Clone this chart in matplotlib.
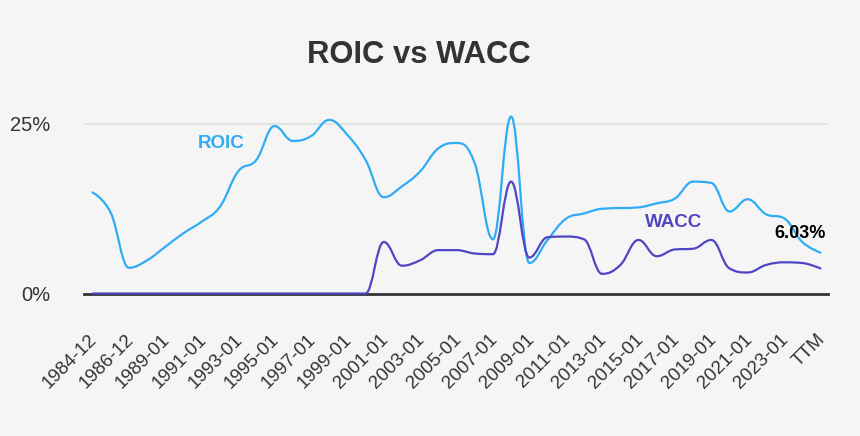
import numpy as np
import matplotlib

matplotlib.use("Agg")
import matplotlib.pyplot as plt
from matplotlib.path import Path
from matplotlib.patches import PathPatch
from matplotlib.transforms import ScaledTranslation

plt.rcParams["font.family"] = ["Liberation Sans", "DejaVu Sans"]

# periodi (una categoria per anno, etichetta ogni due)
periods = (["1984-12", "1985-12", "1986-12", "1988-01"]
           + [f"{y}-01" for y in range(1989, 2025)] + ["TTM"])

roic = [14.9, 11.9, 3.8, 4.9, 6.9, 8.9, 10.6, 12.8, 18.0, 19.7,
        24.7, 22.5, 23.2, 25.6, 23.4, 19.7, 14.2, 15.8, 18.0, 21.4,
        22.2, 19.2, 8.0, 26.1, 4.5, 7.9, 11.0, 11.8, 12.5, 12.6,
        12.7, 13.3, 14.0, 16.5, 16.3, 12.1, 13.9, 11.7, 11.1, 7.6,
        6.03]
wacc = [0.0] * 16 + [7.6, 4.1, 4.9, 6.4, 6.4, 5.9, 5.8, 16.5, 5.3, 8.3,
                     8.4, 8.0, 2.9, 4.2, 7.9, 5.5, 6.5, 6.6, 7.9, 3.7,
                     3.1, 4.2, 4.6, 4.5, 3.7]

BG = "#f5f5f5"
C_ROIC = "#30acf5"
C_WACC = "#5046c4"


def _spline_path(xs, ys, smoothing=1.5):
    """Curva 'spline' alla Highcharts: bezier cubiche senza falsi estremi."""
    n = len(xs)
    denom = smoothing + 1
    right = [None] * n
    verts = [(xs[0], ys[0])]
    codes = [Path.MOVETO]
    for i in range(1, n):
        x, y = xs[i], ys[i]
        lx, ly = xs[i - 1], ys[i - 1]
        lcx, lcy = x, y
        if i < n - 1:
            nx, ny = xs[i + 1], ys[i + 1]
            lcx = (smoothing * x + lx) / denom
            lcy = (smoothing * y + ly) / denom
            rcx = (smoothing * x + nx) / denom
            rcy = (smoothing * y + ny) / denom
            corr = (rcy - lcy) * (rcx - x) / (rcx - lcx) + y - rcy
            lcy += corr
            rcy += corr
            if lcy > ly and lcy > y:
                lcy = max(ly, y); rcy = 2 * y - lcy
            elif lcy < ly and lcy < y:
                lcy = min(ly, y); rcy = 2 * y - lcy
            if rcy > ny and rcy > y:
                rcy = max(ny, y); lcy = 2 * y - rcy
            elif rcy < ny and rcy < y:
                rcy = min(ny, y); lcy = 2 * y - rcy
            right[i] = (rcx, rcy)
        p = right[i - 1] if right[i - 1] is not None else (lx, ly)
        verts += [p, (lcx, lcy), (x, y)]
        codes += [Path.CURVE4] * 3
    return Path(verts, codes)


fig = plt.figure(figsize=(8.6, 4.36), dpi=100, facecolor=BG)
ax = fig.add_axes([0.0977, 0.3268, 0.865, 0.4209], facecolor=BG)

x = np.arange(len(periods))
for vals, col in [(roic, C_ROIC), (wacc, C_WACC)]:
    patch = PathPatch(_spline_path(x, vals), fill=False, edgecolor=col,
                      lw=1.6, zorder=3, clip_on=False, capstyle="round")
    ax.add_patch(patch)

ax.set_xlim(-0.47, len(periods) - 1 + 0.41)
ax.set_ylim(0, 27.06)

ax.axhline(25, color="#e3e3e3", lw=1.5, zorder=1)
ax.axhline(0, color="#333333", lw=2.0, zorder=2, clip_on=False)

for s in ax.spines.values():
    s.set_visible(False)

ax.set_yticks([0, 25])
ax.set_yticklabels(["0%", "25%"], fontsize=14.5, color="#333333")
ax.tick_params(axis="y", length=0, pad=24)

ax.set_xticks(x[::2])
ax.set_xticklabels(periods[::2], fontsize=13.5, color="#333333",
                   rotation=45, ha="right", va="top", rotation_mode="anchor")
ax.tick_params(axis="x", length=0, pad=27)
shift = ScaledTranslation(-4 / 100, 0, fig.dpi_scale_trans)
for lab in ax.get_xticklabels():
    lab.set_transform(lab.get_transform() + shift)

fig.text(0.487, 0.874, "ROIC vs WACC", ha="center", va="center",
         fontsize=22.3, fontweight="bold", color="#333333")

ax.text(7.06, 22.05, "ROIC", ha="center", va="center", fontsize=13.5,
        fontweight="bold", color=C_ROIC)
ax.text(31.95, 10.47, "WACC", ha="center", va="center", fontsize=13.5,
        fontweight="bold", color=C_WACC)
ax.annotate(f"{roic[-1]:.2f}%", xy=(x[-1], roic[-1]), xytext=(-15, 14),
            textcoords="offset points", ha="center", va="center",
            fontsize=13, fontweight="bold", color="black")

fig.savefig("out.png", dpi=100, facecolor=BG)
